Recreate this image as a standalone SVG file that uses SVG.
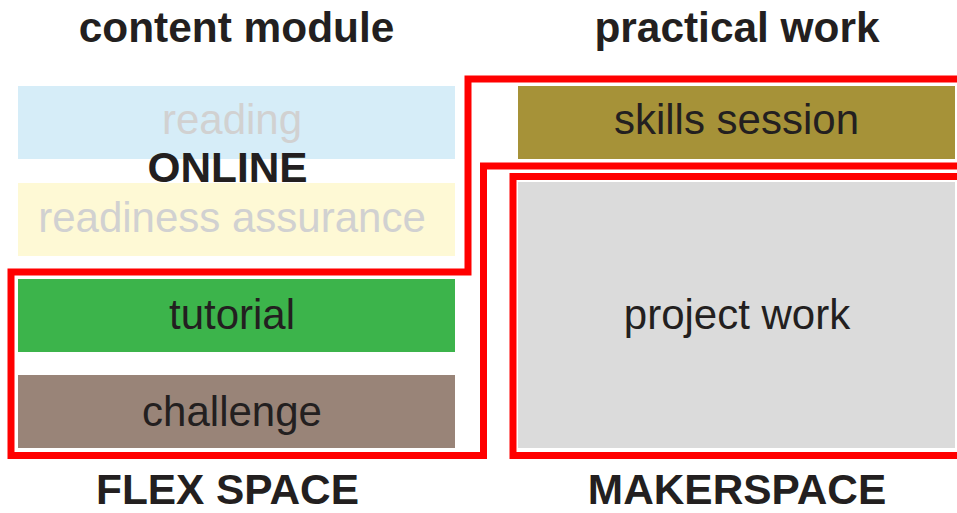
<svg xmlns="http://www.w3.org/2000/svg" width="957" height="513" viewBox="0 0 957 513">
<style>
.t{font-family:"Liberation Sans",Arial,Helvetica,sans-serif;font-size:42px;fill:#231F20;text-anchor:middle}
.b{font-weight:bold;font-size:42.4px}
.g{fill:#D1D1D1}
.zone{fill:none;stroke:#FF0000;stroke-width:7;stroke-linejoin:miter}
</style>
<rect width="957" height="513" fill="#FFFFFF"/>
<g id="headers">
<text class="t b" x="236.5" y="42">content module</text>
<text class="t b" x="737" y="42">practical work</text>
</g>
<g id="reading"><rect x="18" y="86" width="437" height="73" fill="#D6EDF8"/><text class="t g" x="232" y="134">reading</text></g>
<g id="readiness"><rect x="18" y="183" width="437" height="73" fill="#FEF9D5"/><text class="t g" x="232" y="232">readiness assurance</text></g>
<g id="online"><text class="t b" x="227.5" y="182">ONLINE</text></g>
<g id="tutorial"><rect x="18" y="279" width="437" height="73" fill="#3CB44B"/><text class="t" x="232" y="329">tutorial</text></g>
<g id="challenge"><rect x="18" y="375" width="437" height="73" fill="#998478"/><text class="t" x="232" y="426">challenge</text></g>
<g id="skills"><rect x="518" y="86" width="437" height="73" fill="#A69238"/><text class="t" x="736.5" y="134">skills session</text></g>
<g id="project"><rect x="518" y="182" width="437" height="266" fill="#DBDBDB"/><text class="t" x="737" y="329">project work</text></g>
<g id="zones">
<path class="zone" d="M960,79 H468 V272 H11 V455.5 H483.5 V166 H960"/>
<path class="zone" d="M960,176.5 H513 V455.5 H960"/>
</g>
<g id="labels">
<text class="t b" x="227.5" y="504">FLEX SPACE</text>
<text class="t b" x="737" y="504">MAKERSPACE</text>
</g>
</svg>
